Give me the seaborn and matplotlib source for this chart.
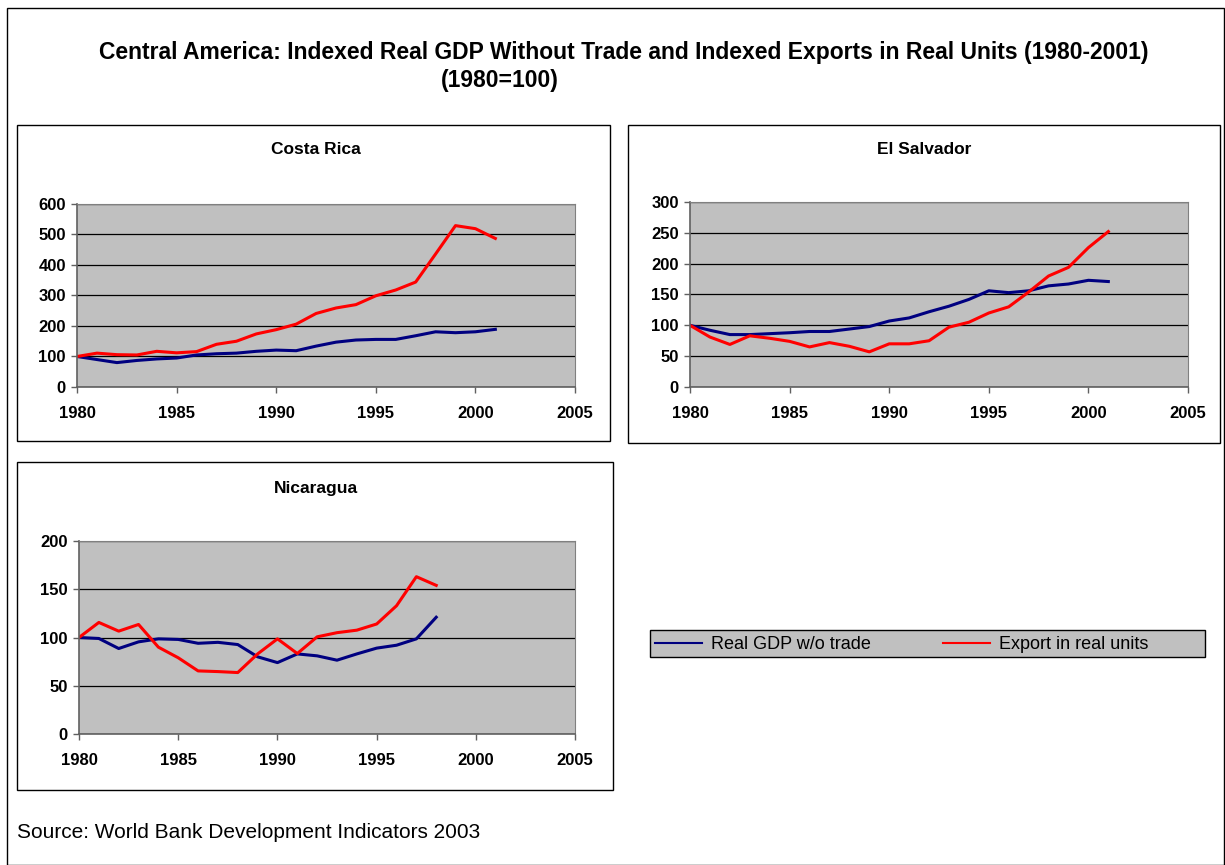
# Central America: indexed real GDP without trade vs indexed exports
import pandas as pd
import matplotlib.pyplot as plt
import seaborn as sns
from matplotlib.patches import Rectangle

# Data
years_cr = list(range(1980, 2002))
gdp_cr = [100, 90, 80, 87, 92, 95, 105, 109, 111, 117, 121, 119, 134, 147, 154, 156, 156, 168, 181, 178, 181, 189]
exp_cr = [100, 111, 106, 105, 117, 112, 116, 140, 150, 174, 188, 206, 241, 259, 270, 299, 318, 344, 436, 529, 519, 487]

years_es = list(range(1980, 2002))
gdp_es = [100, 92, 85, 85, 86.5, 88, 90, 90, 94, 98, 107, 112, 122, 131, 142, 156, 153, 156, 164, 167, 173, 171]
exp_es = [100, 81, 69, 83, 79, 74, 65, 72, 66, 57, 70, 70, 75, 97, 105, 120, 130, 154, 180, 194, 226, 252]

years_ni = list(range(1980, 1999))
gdp_ni = [100, 99, 88.6, 95.5, 98.6, 98, 94, 95, 92.7, 80, 74, 83, 81, 76.5, 83, 89, 92, 98.6, 121]
exp_ni = [100, 115.6, 106.6, 113.5, 90, 79, 65.4, 64.7, 63.7, 83, 98.6, 83.4, 100.7, 105, 107.6, 114, 132.9, 163, 154]

gdp_label = "Real GDP w/o trade"
exp_label = "Export in real units"


def long_frame(years, gdp, exp):
    df = pd.DataFrame({"year": years, gdp_label: gdp, exp_label: exp})
    return df.melt(id_vars="year", var_name="series", value_name="index")


panels = [
    ("Costa Rica", long_frame(years_cr, gdp_cr, exp_cr), 600, 100, [0.0629, 0.5526, 0.4065, 0.2116]),
    ("El Salvador", long_frame(years_es, gdp_es, exp_es), 300, 50, [0.5633, 0.5526, 0.4065, 0.2139]),
    ("Nicaragua", long_frame(years_ni, gdp_ni, exp_ni), 200, 50, [0.0645, 0.1514, 0.4050, 0.2232]),
]
boxes = [
    (0.0139, 0.4902, 0.4841, 0.3653),
    (0.5127, 0.4879, 0.4833, 0.3676),
    (0.0139, 0.0867, 0.4865, 0.3792),
]
title_pos = [(316 / 1225, 1 - 150 / 865), (924 / 1225, 1 - 149 / 865), (316 / 1225, 1 - 488 / 865)]

palette = {gdp_label: "#000080", exp_label: "#FF0000"}

plt.rcParams["font.family"] = ["Liberation Sans", "DejaVu Sans"]
fig = plt.figure(figsize=(12.25, 8.65), dpi=100)

# outer border and panel frames
fig.patches.append(Rectangle((0.006, 0.0), 0.993, 0.991, transform=fig.transFigure,
                             fill=False, edgecolor="black", linewidth=1))
for b in boxes:
    fig.patches.append(Rectangle(b[:2], b[2], b[3], transform=fig.transFigure,
                                 fill=False, edgecolor="black", linewidth=1))

for (name, df, ymax, ystep, pos), tp in zip(panels, title_pos):
    ax = fig.add_axes(pos)
    sns.lineplot(data=df, x="year", y="index", hue="series", palette=palette,
                 linewidth=2.2, ax=ax, legend=False)
    ax.set_facecolor("#C0C0C0")
    ax.set_xlim(1980, 2005)
    ax.set_ylim(0, ymax)
    ax.set_xticks(range(1980, 2006, 5))
    ax.set_yticks(range(0, ymax + 1, ystep))
    ax.yaxis.grid(True, color="black", linewidth=0.9)
    ax.set_axisbelow(True)
    ax.set_xlabel("")
    ax.set_ylabel("")
    for side in ["top", "right"]:
        ax.spines[side].set_color("#808080")
    for side in ["left", "bottom"]:
        ax.spines[side].set_color("#606060")
        ax.spines[side].set_linewidth(1.2)
    ax.tick_params(axis="both", length=4, width=1, color="#606060", labelsize=12)
    ax.tick_params(axis="x", pad=10)
    ax.tick_params(axis="y", pad=4)
    for lbl in ax.get_xticklabels() + ax.get_yticklabels():
        lbl.set_fontweight("bold")
    fig.text(tp[0], tp[1], name, ha="center", va="center", fontsize=12.5, fontweight="bold")

# shared legend, frame drawn separately so it spans the reference width
fig.patches.append(Rectangle((0.5306, 0.2405), 0.453, 0.0312, transform=fig.transFigure,
                             facecolor="#C0C0C0", edgecolor="black", linewidth=1))
handles = [plt.Line2D([], [], color=palette[gdp_label], linewidth=1.5),
           plt.Line2D([], [], color=palette[exp_label], linewidth=1.5)]
fig.legend(handles, [gdp_label, exp_label], loc="center left", ncol=2,
           bbox_to_anchor=(0.5306, 0.2545), fontsize=13, frameon=False,
           handlelength=2.6, handletextpad=0.5, columnspacing=4.0, borderaxespad=0, borderpad=0.3)

fig.text(624 / 1225, 1 - 52 / 865,
         "Central America: Indexed Real GDP Without Trade and Indexed Exports in Real Units (1980-2001)",
         ha="center", va="center", fontsize=16.5, fontweight="bold")
fig.text(500 / 1225, 1 - 81 / 865, "(1980=100)", ha="center", va="center",
         fontsize=16.5, fontweight="bold")
fig.text(17 / 1225, 1 - 832 / 865, "Source: World Bank Development Indicators 2003",
         ha="left", va="center", fontsize=15)

fig.savefig("out.png", dpi=100)
